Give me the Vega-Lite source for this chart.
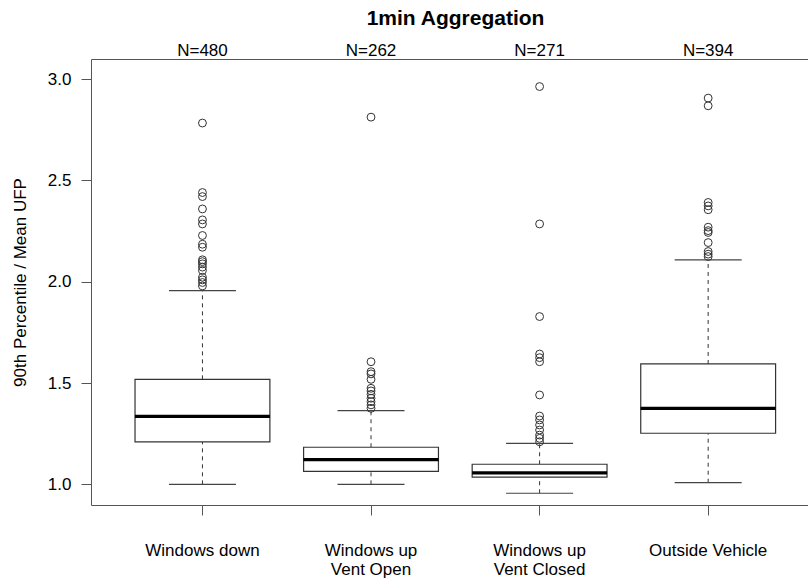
{
  "$schema": "https://vega.github.io/schema/vega-lite/v6.json",
  "width": 717,
  "height": 446,
  "autosize": {"type": "none"},
  "padding": {"left": 91, "top": 59, "right": 0, "bottom": 78},
  "background": "white",
  "title": {
    "text": "1min Aggregation",
    "font": "Liberation Sans",
    "fontSize": 21,
    "fontWeight": "bold",
    "color": "black",
    "anchor": "middle",
    "baseline": "alphabetic",
    "offset": -4,
    "dx": 6
  },
  "datasets": {
    "stats": [
      {"group": "Windows down", "nlabel": "N=480", "lo": 1.0, "q1": 1.21, "median": 1.335, "q3": 1.518, "hi": 1.956},
      {"group": "Windows up Vent Open", "nlabel": "N=262", "lo": 1.0, "q1": 1.064, "median": 1.122, "q3": 1.183, "hi": 1.364},
      {"group": "Windows up Vent Closed", "nlabel": "N=271", "lo": 0.956, "q1": 1.036, "median": 1.057, "q3": 1.099, "hi": 1.202},
      {"group": "Outside Vehicle", "nlabel": "N=394", "lo": 1.008, "q1": 1.252, "median": 1.375, "q3": 1.594, "hi": 2.108}
    ],
    "outliers": [
      {"group": "Windows down", "value": 2.783},
      {"group": "Windows down", "value": 2.44},
      {"group": "Windows down", "value": 2.42},
      {"group": "Windows down", "value": 2.359},
      {"group": "Windows down", "value": 2.305},
      {"group": "Windows down", "value": 2.285},
      {"group": "Windows down", "value": 2.228},
      {"group": "Windows down", "value": 2.185},
      {"group": "Windows down", "value": 2.17},
      {"group": "Windows down", "value": 2.108},
      {"group": "Windows down", "value": 2.099},
      {"group": "Windows down", "value": 2.088},
      {"group": "Windows down", "value": 2.072},
      {"group": "Windows down", "value": 2.055},
      {"group": "Windows down", "value": 2.022},
      {"group": "Windows down", "value": 2.009},
      {"group": "Windows down", "value": 1.996},
      {"group": "Windows down", "value": 1.979},
      {"group": "Windows up Vent Open", "value": 2.812},
      {"group": "Windows up Vent Open", "value": 1.605},
      {"group": "Windows up Vent Open", "value": 1.556},
      {"group": "Windows up Vent Open", "value": 1.545},
      {"group": "Windows up Vent Open", "value": 1.518},
      {"group": "Windows up Vent Open", "value": 1.474},
      {"group": "Windows up Vent Open", "value": 1.461},
      {"group": "Windows up Vent Open", "value": 1.444},
      {"group": "Windows up Vent Open", "value": 1.425},
      {"group": "Windows up Vent Open", "value": 1.408},
      {"group": "Windows up Vent Open", "value": 1.392},
      {"group": "Windows up Vent Open", "value": 1.375},
      {"group": "Windows up Vent Closed", "value": 2.963},
      {"group": "Windows up Vent Closed", "value": 2.285},
      {"group": "Windows up Vent Closed", "value": 1.828},
      {"group": "Windows up Vent Closed", "value": 1.643},
      {"group": "Windows up Vent Closed", "value": 1.625},
      {"group": "Windows up Vent Closed", "value": 1.605},
      {"group": "Windows up Vent Closed", "value": 1.441},
      {"group": "Windows up Vent Closed", "value": 1.337},
      {"group": "Windows up Vent Closed", "value": 1.318},
      {"group": "Windows up Vent Closed", "value": 1.293},
      {"group": "Windows up Vent Closed", "value": 1.268},
      {"group": "Windows up Vent Closed", "value": 1.243},
      {"group": "Windows up Vent Closed", "value": 1.227},
      {"group": "Windows up Vent Closed", "value": 1.21},
      {"group": "Outside Vehicle", "value": 2.906},
      {"group": "Outside Vehicle", "value": 2.868},
      {"group": "Outside Vehicle", "value": 2.391},
      {"group": "Outside Vehicle", "value": 2.374},
      {"group": "Outside Vehicle", "value": 2.355},
      {"group": "Outside Vehicle", "value": 2.269},
      {"group": "Outside Vehicle", "value": 2.252},
      {"group": "Outside Vehicle", "value": 2.243},
      {"group": "Outside Vehicle", "value": 2.193},
      {"group": "Outside Vehicle", "value": 2.149},
      {"group": "Outside Vehicle", "value": 2.136},
      {"group": "Outside Vehicle", "value": 2.124}
    ]
  },
  "config": {
    "view": {"stroke": null},
    "axis": {
      "labelFont": "Liberation Sans",
      "labelFontSize": 17,
      "labelColor": "black",
      "titleFont": "Liberation Sans",
      "titleFontSize": 17,
      "titleFontWeight": "normal",
      "titleColor": "black",
      "domainColor": "#555555",
      "tickColor": "#555555",
      "tickSize": 10,
      "grid": false
    }
  },
  "resolve": {"axis": {"x": "independent"}},
  "layer": [
    {
      "data": {"name": "stats"},
      "mark": {"type": "rule", "color": "#333333", "strokeWidth": 1, "strokeDash": [4, 4]},
      "encoding": {
        "x": {
          "field": "group", "type": "nominal", "sort": null,
          "scale": {
            "type": "band",
            "domain": ["Windows down", "Windows up Vent Open", "Windows up Vent Closed", "Outside Vehicle"],
            "paddingInner": 0, "paddingOuter": 0.1267, "align": 0.636, "round": false
          },
          "axis": {
            "orient": "bottom", "title": null, "labelAngle": 0, "labelPadding": 27,
            "labelLineHeight": 19,
            "labelExpr": "indexof(datum.label, ' Vent') > 0 ? [substring(datum.label, 0, indexof(datum.label, ' Vent')), substring(datum.label, indexof(datum.label, ' Vent') + 1)] : datum.label"
          }
        },
        "y": {
          "field": "lo", "type": "quantitative",
          "scale": {"domain": [0.898, 3.099], "nice": false, "zero": false},
          "axis": {
            "title": "90th Percentile / Mean UFP", "values": [1, 1.5, 2, 2.5, 3], "format": ".1f",
            "labelPadding": 10, "titlePadding": 18
          }
        },
        "y2": {"field": "q1"}
      }
    },
    {
      "data": {"name": "stats"},
      "mark": {"type": "rule", "color": "#333333", "strokeWidth": 1, "strokeDash": [4, 4]},
      "encoding": {
        "x": {"field": "group", "type": "nominal", "sort": null, "axis": null},
        "y": {"field": "q3", "type": "quantitative"},
        "y2": {"field": "hi"}
      }
    },
    {
      "data": {"name": "stats"},
      "mark": {"type": "tick", "color": "#444444", "opacity": 1, "thickness": 1.2, "size": 67},
      "encoding": {
        "x": {"field": "group", "type": "nominal", "sort": null, "axis": null},
        "y": {"field": "lo", "type": "quantitative"}
      }
    },
    {
      "data": {"name": "stats"},
      "mark": {"type": "tick", "color": "#444444", "opacity": 1, "thickness": 1.2, "size": 67},
      "encoding": {
        "x": {"field": "group", "type": "nominal", "sort": null, "axis": null},
        "y": {"field": "hi", "type": "quantitative"}
      }
    },
    {
      "data": {"name": "stats"},
      "mark": {"type": "bar", "fill": "white", "stroke": "#333333", "strokeWidth": 1.2, "width": {"band": 0.8}},
      "encoding": {
        "x": {"field": "group", "type": "nominal", "sort": null, "axis": null},
        "y": {"field": "q1", "type": "quantitative"},
        "y2": {"field": "q3"}
      }
    },
    {
      "data": {"name": "stats"},
      "mark": {"type": "tick", "color": "black", "opacity": 1, "thickness": 3.2, "size": 135},
      "encoding": {
        "x": {"field": "group", "type": "nominal", "sort": null, "axis": null},
        "y": {"field": "median", "type": "quantitative"}
      }
    },
    {
      "data": {"name": "outliers"},
      "mark": {"type": "point", "shape": "circle", "filled": false, "size": 62, "stroke": "#333333", "strokeWidth": 1, "opacity": 1},
      "encoding": {
        "x": {"field": "group", "type": "nominal", "sort": null, "axis": null},
        "y": {"field": "value", "type": "quantitative"}
      }
    },
    {
      "data": {"name": "stats"},
      "mark": {"type": "text", "font": "Liberation Sans", "fontSize": 17, "color": "black", "baseline": "alphabetic", "dy": -3},
      "encoding": {
        "x": {"field": "group", "type": "nominal", "sort": null,
          "axis": {"orient": "top", "labels": false, "ticks": false, "title": null}},
        "y": {"value": 0},
        "text": {"field": "nlabel"}
      }
    }
  ]
}
